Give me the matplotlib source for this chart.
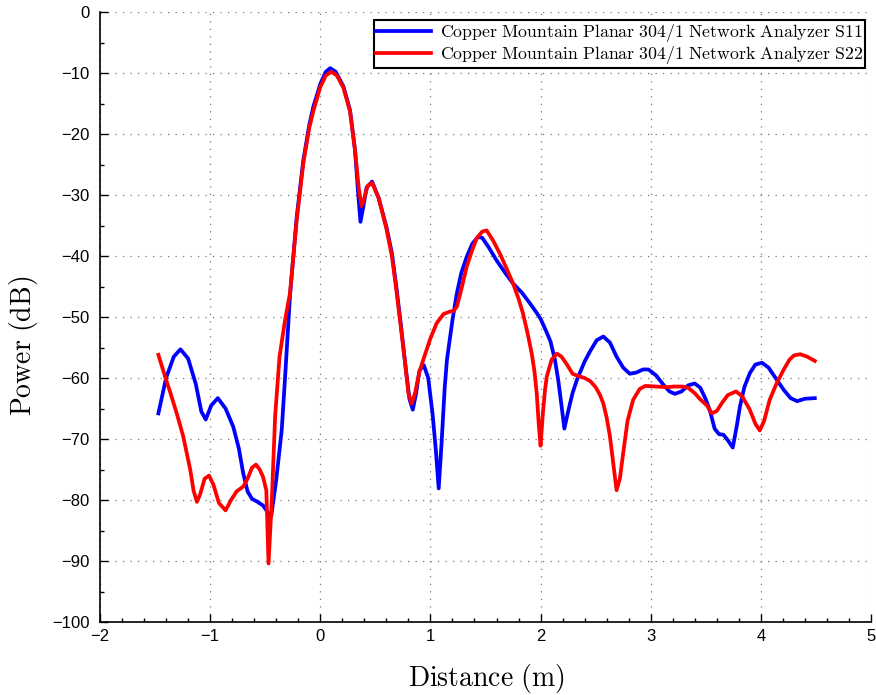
#!/bin/env python3

import matplotlib
matplotlib.use('Agg')
import matplotlib.pyplot as plt
from matplotlib.ticker import MultipleLocator

# S11 trace (distance in m, power in dB)
s11_x = [-1.47, -1.40, -1.33, -1.27, -1.20, -1.13, -1.08, -1.04, -0.99, -0.93,
         -0.86, -0.79, -0.74, -0.70, -0.66, -0.62, -0.57, -0.52, -0.47, -0.445,
         -0.40, -0.35, -0.32, -0.275, -0.214, -0.154, -0.10, -0.064, 0.00, 0.05,
         0.09, 0.14, 0.21, 0.27, 0.315, 0.345, 0.365, 0.39, 0.42, 0.47,
         0.53, 0.60, 0.65, 0.69, 0.73, 0.77, 0.81, 0.84, 0.87, 0.90,
         0.94, 0.98, 1.02, 1.05, 1.075, 1.10, 1.13, 1.15, 1.20, 1.24,
         1.28, 1.33, 1.38, 1.43, 1.47, 1.53, 1.60, 1.68, 1.75, 1.83,
         1.905, 1.96, 2.00, 2.05, 2.09, 2.13, 2.16, 2.19, 2.216, 2.25,
         2.29, 2.33, 2.40, 2.45, 2.51, 2.57, 2.63, 2.69, 2.75, 2.81,
         2.87, 2.93, 2.98, 3.05, 3.115, 3.17, 3.22, 3.28, 3.34, 3.40,
         3.45, 3.50, 3.54, 3.58, 3.62, 3.66, 3.70, 3.745, 3.78, 3.81,
         3.85, 3.90, 3.95, 4.01, 4.07, 4.145, 4.21, 4.27, 4.33, 4.40, 4.49]
s11_y = [-65.8, -60.0, -56.5, -55.3, -56.8, -61.0, -65.5, -66.8, -64.5, -63.3,
         -65.0, -68.0, -71.5, -75.6, -78.6, -79.8, -80.3, -80.9, -82.2, -82.6,
         -76.7, -68.5, -60.0, -46.5, -33.6, -24.3, -18.5, -15.6, -11.8, -9.8,
         -9.2, -9.8, -12.2, -16.1, -22.6, -30.0, -34.4, -32.0, -28.8, -27.8,
         -30.5, -35.2, -39.5, -45.0, -51.0, -57.5, -63.5, -65.2, -62.5, -58.8,
         -57.9, -60.0, -66.0, -72.0, -78.1, -71.0, -61.5, -57.0, -50.5, -46.1,
         -42.8, -40.1, -38.0, -36.9, -37.0, -38.6, -40.7, -42.8, -44.5, -46.0,
         -47.8, -49.2, -50.3, -52.3, -54.0, -57.0, -60.3, -64.5, -68.3, -65.5,
         -62.5, -60.3, -57.3, -55.6, -53.8, -53.2, -54.2, -56.5, -58.3, -59.3,
         -59.1, -58.6, -58.6, -59.6, -61.1, -62.2, -62.6, -62.2, -61.2, -60.9,
         -61.6, -63.5, -65.5, -68.3, -69.2, -69.3, -70.2, -71.4, -68.0, -64.7,
         -61.5, -59.2, -57.8, -57.5, -58.3, -60.3, -62.0, -63.3, -63.8, -63.4, -63.3]

# S22 trace
s22_x = [-1.47, -1.40, -1.365, -1.30, -1.244, -1.18, -1.15, -1.12, -1.09, -1.05,
         -1.01, -0.97, -0.92, -0.86, -0.81, -0.76, -0.70, -0.66, -0.62, -0.584,
         -0.55, -0.52, -0.49, -0.47, -0.44, -0.41, -0.37, -0.32, -0.275, -0.214,
         -0.154, -0.10, -0.064, 0.00, 0.05, 0.10, 0.15, 0.21, 0.27, 0.315,
         0.35, 0.375, 0.40, 0.43, 0.47, 0.53, 0.60, 0.65, 0.69, 0.73,
         0.77, 0.80, 0.83, 0.86, 0.90, 0.935, 1.00, 1.057, 1.12, 1.18,
         1.21, 1.24, 1.28, 1.33, 1.38, 1.42, 1.47, 1.51, 1.57, 1.63,
         1.69, 1.75, 1.80, 1.84, 1.88, 1.92, 1.945, 1.965, 1.985, 2.00,
         2.02, 2.04, 2.056, 2.10, 2.147, 2.19, 2.24, 2.29, 2.33, 2.40,
         2.45, 2.50, 2.54, 2.57, 2.60, 2.63, 2.66, 2.69, 2.72, 2.75,
         2.79, 2.84, 2.90, 2.95, 3.05, 3.15, 3.21, 3.29, 3.34, 3.40,
         3.45, 3.51, 3.555, 3.60, 3.65, 3.70, 3.775, 3.83, 3.90, 3.95,
         3.99, 4.03, 4.08, 4.14, 4.205, 4.26, 4.30, 4.357, 4.42, 4.49]
s22_y = [-56.2, -60.3, -62.2, -66.0, -69.6, -75.1, -78.5, -80.3, -79.0, -76.5,
         -76.0, -77.5, -80.5, -81.7, -80.0, -78.6, -77.8, -76.5, -74.7, -74.2,
         -75.0, -76.2, -78.4, -90.4, -80.0, -66.3, -56.5, -50.5, -46.1, -34.1,
         -24.8, -19.0, -16.3, -12.3, -10.4, -9.8, -10.4, -12.4, -16.3, -22.6,
         -29.0, -31.8, -30.5, -28.5, -28.0, -30.5, -35.5, -40.0, -45.5, -51.5,
         -57.5, -62.5, -64.2, -62.5, -59.0, -57.0, -53.5, -51.0, -49.5, -49.1,
         -49.0, -48.3, -45.5, -41.7, -39.0, -37.1, -36.0, -35.8, -37.5, -39.6,
         -42.0, -44.5, -47.0, -49.4, -52.5, -56.0, -59.0, -62.5, -68.0, -71.1,
         -66.0, -62.0, -59.8, -57.0, -56.0, -56.5, -57.8, -59.3, -59.6, -60.0,
         -60.5, -61.5, -62.8, -64.2, -66.5, -69.6, -74.0, -78.4, -76.5, -72.3,
         -67.0, -63.6, -61.8, -61.3, -61.4, -61.5, -61.4, -61.4, -61.6, -62.5,
         -63.5, -64.5, -65.8, -65.4, -64.0, -62.8, -62.2, -63.0, -65.2, -67.5,
         -68.6, -67.0, -63.6, -61.0, -58.7, -57.0, -56.3, -56.1, -56.5, -57.2]

labels = [r'$\mathrm{Copper\ Mountain\ Planar\ 304/1\ Network\ Analyzer\ S11}$',
          r'$\mathrm{Copper\ Mountain\ Planar\ 304/1\ Network\ Analyzer\ S22}$']
xticks = [-2, -1, 0, 1, 2, 3, 4, 5]
yticks = [0, -10, -20, -30, -40, -50, -60, -70, -80, -90, -100]


def main():
    plt.rcParams['mathtext.fontset'] = 'cm'
    plt.rcParams['font.family'] = ['Liberation Sans', 'DejaVu Sans']
    plt.rcParams['axes.unicode_minus'] = True

    fig = plt.figure(figsize=(8.76, 6.95), dpi=100)
    ax = fig.add_axes([100/876, 1 - 622/695, 771/876, 610/695])

    ax.plot(s11_x, s11_y, color='#0000ff', lw=2.7, label=labels[0], zorder=3)
    ax.plot(s22_x, s22_y, color='#ff0000', lw=2.7, label=labels[1], zorder=4)

    ax.set_xlim(-2, 5)
    ax.set_ylim(-100, 0)
    ax.set_xticks(xticks)
    ax.set_yticks(yticks)
    ax.xaxis.set_minor_locator(MultipleLocator(0.2))
    ax.yaxis.set_minor_locator(MultipleLocator(5))
    ax.tick_params(which='both', direction='in', labelsize=12, colors='black')
    ax.tick_params(which='major', length=6, width=1)
    ax.tick_params(which='minor', length=3, width=1)
    ax.tick_params(axis='x', pad=5)
    ax.tick_params(axis='y', pad=7.5)

    for side in ['top', 'right']:
        ax.spines[side].set_visible(False)
    for side in ['left', 'bottom']:
        ax.spines[side].set_linewidth(1.2)

    ax.grid(True, which='major', color='#777777', linestyle=(0, (1, 5)), lw=0.9)

    ax.set_xlabel(r'$\mathrm{Distance\ (m)}$', fontsize=20)
    ax.set_ylabel(r'$\mathrm{Power\ (dB)}$', fontsize=20)
    ax.xaxis.set_label_coords(0.501, -0.066)
    ax.yaxis.set_label_coords(-0.078, 0.452)

    leg = ax.legend(loc='upper right', fontsize=12.8, fancybox=False, framealpha=1,
                    edgecolor='black', handlelength=3.1, borderpad=0.12,
                    labelspacing=0.0, handletextpad=0.5, borderaxespad=0,
                    bbox_to_anchor=(0.992, 0.987))
    leg.get_frame().set_linewidth(1.5)

    fig.savefig('out.png', dpi=100)


if __name__ == '__main__':
    main()
